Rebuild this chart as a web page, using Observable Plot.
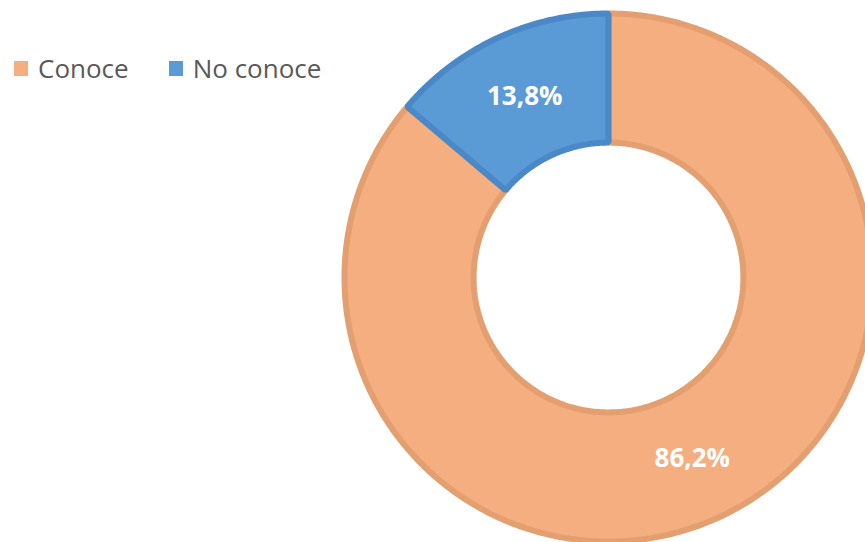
<!DOCTYPE html>
<html>
<head>
<meta charset="utf-8">
<script src="https://cdn.jsdelivr.net/npm/d3@7"></script>
<script src="https://cdn.jsdelivr.net/npm/@observablehq/plot@0.6"></script>
<style>
  html, body { margin: 0; padding: 0; background: #fff; overflow: hidden; }
  #wrap { position: relative; width: 865px; height: 542px; }
  #legend { position: absolute; left: 14px; top: 50px; }
  .lg-swatches { font-family: "Open Sans", sans-serif !important; font-size: 26px !important; color: #595959 !important; }
  .lg-swatch { margin-right: 40px !important; }
  .lg-swatch > svg { margin-right: 10px !important; }
</style>
</head>
<body>
<div id="wrap"><div id="legend"></div></div>
<script>
const categories = ["Conoce", "No conoce"];
const values = [86.2, 13.8];
const fillColors = ["#F4AE80", "#5B9BD5"];
const borderColors = ["#E39F6F", "#4A88C8"];

const innerFrac = 0.511;
const pie = d3.pie().sort(null).value(d => d.value)(categories.map((c, i) => ({cat: c, value: values[i]})));

// build ring polygons from pie angles
const points = [];
pie.forEach(s => {
  const n = Math.max(8, Math.ceil((s.endAngle - s.startAngle) * 80));
  for (let k = 0; k <= n; k++) {
    const a = s.startAngle + (s.endAngle - s.startAngle) * k / n;
    points.push({cat: s.data.cat, x: Math.sin(a), y: Math.cos(a)});
  }
  for (let k = n; k >= 0; k--) {
    const a = s.startAngle + (s.endAngle - s.startAngle) * k / n;
    points.push({cat: s.data.cat, x: innerFrac * Math.sin(a), y: innerFrac * Math.cos(a)});
  }
});
const labels = pie.map(s => {
  const a = (s.startAngle + s.endAngle) / 2;
  const r = (1 + innerFrac) / 2;
  return {cat: s.data.cat, x: r * Math.sin(a), y: r * Math.cos(a), text: s.data.value.toFixed(1).replace(".", ",") + "%"};
});

const cx = 608, cy = 277, R = 264;
const chart = Plot.plot({
  width: 865,
  height: 542,
  margin: 0,
  x: {domain: [-1, 1], range: [cx - R, cx + R], axis: null},
  y: {domain: [-1, 1], range: [cy + R, cy - R], axis: null},
  color: {domain: categories, range: fillColors},
  marks: [
    ...categories.map((c, i) => Plot.line(points.filter(p => p.cat === c), {
      x: "x", y: "y", curve: "linear-closed",
      fill: fillColors[i], stroke: borderColors[i], strokeWidth: 6, strokeLinejoin: "miter"
    })),
    Plot.text(labels, {x: "x", y: "y", text: "text", fill: "white", fontSize: 26, fontWeight: "bold", fontFamily: "Open Sans"})
  ]
});
document.getElementById("wrap").prepend(chart);
const lg = chart.legend("color", {swatchWidth: 14, swatchHeight: 15, className: "lg"});
document.getElementById("legend").appendChild(lg);
</script>
</body>
</html>
